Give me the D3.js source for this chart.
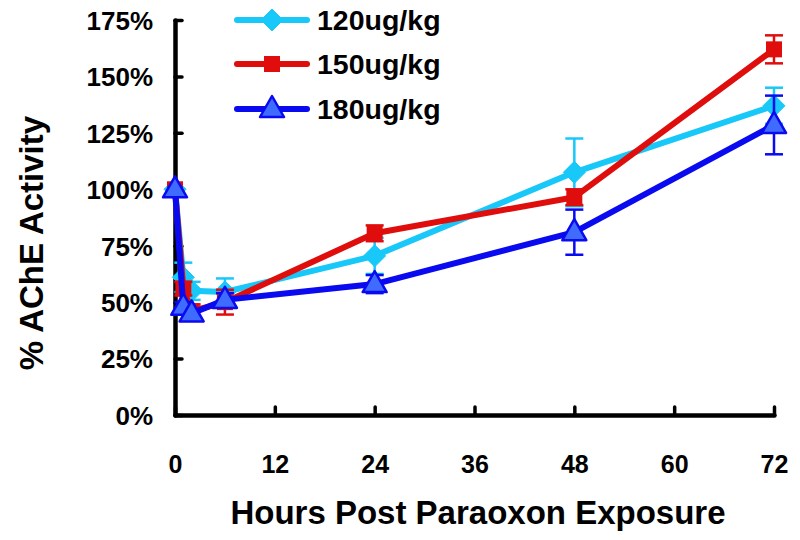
<!DOCTYPE html>
<html><head><meta charset="utf-8">
<script src="https://cdn.jsdelivr.net/npm/d3@7"></script>
<style>body{margin:0;background:#fff}svg{display:block}text{font-family:"Liberation Sans",Arial,Helvetica,sans-serif;font-weight:bold;fill:#000}</style>
</head><body><svg id="c" width="800" height="540"></svg>
<script>
const hours = [0, 1, 2, 6, 24, 48, 72];
const xTicks = [0, 12, 24, 36, 48, 60, 72];
const yTicks = [0, 0.25, 0.5, 0.75, 1.0, 1.25, 1.5, 1.75];
const seriesNames = ["120ug/kg", "150ug/kg", "180ug/kg"];
const val120 = [1.00, 0.61, 0.55, 0.545, 0.705, 1.075, 1.37];
const err120 = [0.00, 0.065, 0.04, 0.06, 0.08, 0.15, 0.08];
const val150 = [1.00, 0.56, 0.46, 0.50, 0.805, 0.965, 1.62];
const err150 = [0.00, 0.03, 0.03, 0.055, 0.035, 0.035, 0.062];
const val180 = [1.00, 0.48, 0.45, 0.51, 0.58, 0.81, 1.285];
const err180 = [0.00, 0.02, 0.02, 0.03, 0.04, 0.10, 0.13];
const colors = ["#18c8f8", "#e00d0d", "#0a0af0"];
const markers = ["diamond", "square", "triangle"];

const svg = d3.select("#c");
const x = d3.scaleLinear().domain([0, 72]).range([175, 774]);
const y = d3.scaleLinear().domain([0, 1.75]).range([415, 20]);

// axes
const gx = svg.append("g").attr("transform", "translate(0,415)")
  .call(d3.axisBottom(x).tickValues(xTicks).tickSizeInner(-8).tickSizeOuter(0).tickPadding(40).tickFormat(d3.format("d")));
const gy = svg.append("g").attr("transform", "translate(175,0)")
  .call(d3.axisLeft(y).tickValues(yTicks).tickSizeInner(-7).tickSizeOuter(0).tickPadding(22).tickFormat(d3.format(".0%")));
[gx, gy].forEach(g => {
  g.select(".domain").attr("stroke", "#000").attr("stroke-width", 4.5).attr("stroke-linecap", "round");
  g.selectAll(".tick line").attr("stroke", "#000").attr("stroke-width", 3.5).attr("stroke-linecap", "round");
  g.selectAll(".tick text").attr("font-size", 26).attr("font-family", "Liberation Sans, Arial, sans-serif").attr("font-weight", "bold").attr("fill", "#000");
});
gx.selectAll(".tick text").attr("font-size", 25);
gy.selectAll(".tick text").attr("dy", "0.36em");

svg.append("text").attr("x", 478).attr("y", 524).attr("text-anchor", "middle").attr("font-size", 33).text("Hours Post Paraoxon Exposure");
svg.append("text").attr("transform", "translate(43,243) rotate(-90)").attr("text-anchor", "middle").attr("font-size", 33).text("% AChE Activity");

function drawMarker(g, type, color, cx, cy) {
  if (type === "diamond") {
    g.append("path").attr("d", `M${cx},${cy-11}L${cx+11},${cy}L${cx},${cy+11}L${cx-11},${cy}Z`).attr("fill", color).attr("stroke", color).attr("stroke-width", 1);
  } else if (type === "square") {
    g.append("rect").attr("x", cx-8).attr("y", cy-8).attr("width", 16).attr("height", 16).attr("fill", color);
  } else {
    g.append("path").attr("d", `M${cx},${cy-13}L${cx+12},${cy+8}L${cx-12},${cy+8}Z`).attr("fill", "#3f6cff").attr("stroke", color).attr("stroke-width", 2.5).attr("stroke-linejoin", "round");
  }
}

const vals = [val120, val150, val180];
const errs = [err120, err150, err180];
const line = d3.line().x(d => x(d[0])).y(d => y(d[1]));
vals.forEach((v, si) => {
  const g = svg.append("g");
  const c = colors[si];
  const pts = hours.map((h, i) => [h, v[i], errs[si][i]]);
  pts.forEach(p => {
    if (p[2] > 0) {
      g.append("line").attr("x1", x(p[0])).attr("x2", x(p[0])).attr("y1", y(p[1]-p[2])).attr("y2", y(p[1]+p[2])).attr("stroke", c).attr("stroke-width", 2.5);
      [p[1]-p[2], p[1]+p[2]].forEach(e => g.append("line").attr("x1", x(p[0])-9).attr("x2", x(p[0])+9).attr("y1", y(e)).attr("y2", y(e)).attr("stroke", c).attr("stroke-width", 2.5));
    }
  });
  g.append("path").datum(pts).attr("d", line).attr("fill", "none").attr("stroke", c).attr("stroke-width", 6).attr("stroke-linejoin", "round");
  pts.forEach(p => drawMarker(g, markers[si], c, x(p[0]), y(p[1])));
});

// legend
const legY = [20, 64, 109];
seriesNames.forEach((n, i) => {
  const g = svg.append("g");
  g.append("line").attr("x1", 237).attr("x2", 307).attr("y1", legY[i]).attr("y2", legY[i]).attr("stroke", colors[i]).attr("stroke-width", 6).attr("stroke-linecap", "round");
  drawMarker(g, markers[i], colors[i], 272, legY[i]);
  g.append("text").attr("x", 317).attr("y", legY[i]).attr("dy", "0.36em").attr("font-size", 28.5).text(n);
});
</script></body></html>
